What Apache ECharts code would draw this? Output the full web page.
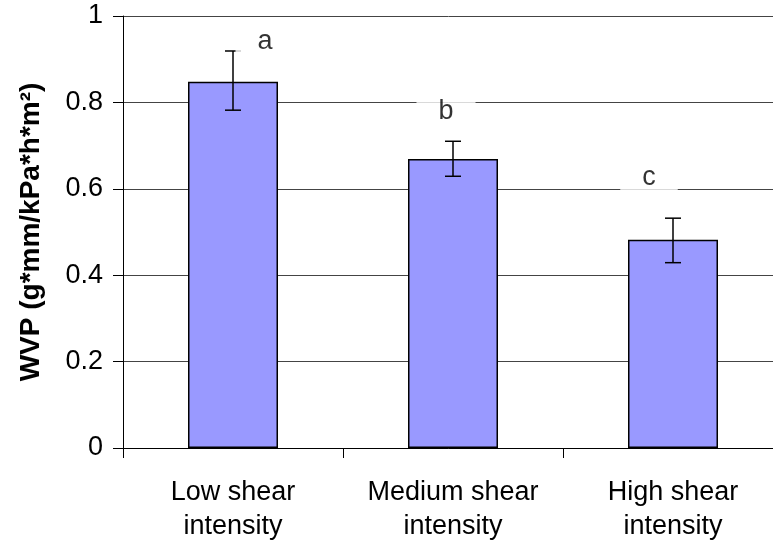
<!DOCTYPE html>
<html><head><meta charset="utf-8">
<script src="https://cdn.jsdelivr.net/npm/echarts@6/dist/echarts.min.js"></script>
<style>html,body{margin:0;padding:0;background:#fff}#c{width:773px;height:546px}</style>
</head><body><div id="c"></div>
<script>
const categories = ['Low shear\nintensity', 'Medium shear\nintensity', 'High shear\nintensity'];
const wvp = [0.848, 0.669, 0.482];
const errLow = [0.782, 0.629, 0.429];
const errHigh = [0.919, 0.710, 0.532];
const letters = ['a', 'b', 'c'];
const letterY = [0.94, 0.778, 0.627];
const yTicks = [0, 0.2, 0.4, 0.6, 0.8, 1];

const chart = echarts.init(document.getElementById('c'));
const font = 'Liberation Sans, Arial, sans-serif';
chart.setOption({
  animation: false,
  backgroundColor: '#fff',
  grid: { left: 123, width: 660, top: 16, bottom: 98, containLabel: false, outerBoundsMode: 'none' },
  xAxis: {
    type: 'category', data: categories, boundaryGap: true,
    axisLine: { lineStyle: { color: '#000', width: 1 } },
    axisTick: { show: true, length: 10, interval: 0, lineStyle: { color: '#000' } },
    axisLabel: { color: '#000', fontSize: 27, fontFamily: font, lineHeight: 34, margin: 28, interval: 0, hideOverlap: false }
  },
  yAxis: {
    type: 'value', min: yTicks[0], max: yTicks[yTicks.length - 1], interval: 0.2,
    name: 'WVP (g*mm/kPa*h*m²)', nameLocation: 'middle', nameGap: 78, nameRotate: 90,
    nameTextStyle: { color: '#000', fontSize: 28, fontWeight: 'bold', fontFamily: font },
    axisLine: { show: true, lineStyle: { color: '#000' } },
    axisTick: { show: true, length: 10, lineStyle: { color: '#000' } },
    axisLabel: { color: '#000', fontSize: 27, fontFamily: font, margin: 20, formatter: v => String(+v.toFixed(1)) },
    splitLine: { show: true, lineStyle: { color: '#444', width: 1 } }
  },
  series: [
    {
      type: 'bar', data: wvp, barWidth: 90,
      itemStyle: { color: '#9999FF', borderColor: '#000', borderWidth: 1.5 }
    },
    {
      type: 'custom', z: 5,
      data: wvp.map((v, i) => [i, errLow[i], errHigh[i]]),
      renderItem: (params, api) => {
        const lo = api.coord([api.value(0), api.value(1)]);
        const hi = api.coord([api.value(0), api.value(2)]);
        const w = 8;
        const st = { stroke: '#000', lineWidth: 1.5 };
        return { type: 'group', children: [
          { type: 'line', shape: { x1: hi[0], y1: hi[1], x2: lo[0], y2: lo[1] }, style: st },
          { type: 'line', shape: { x1: hi[0] - w, y1: hi[1], x2: hi[0] + w, y2: hi[1] }, style: st },
          { type: 'line', shape: { x1: lo[0] - w, y1: lo[1], x2: lo[0] + w, y2: lo[1] }, style: st }
        ]};
      }
    },
    {
      type: 'scatter', symbolSize: 0, z: 6,
      data: letters.map((l, i) => ({ value: [i, letterY[i]], name: l })),
      label: {
        show: true, position: 'inside', formatter: p => p.name,
        color: '#000', fontSize: 27, fontFamily: font,
        backgroundColor: '#fff', padding: [2, 22, 2, 22]
      },
      labelLayout: (p) => {
        const off = [32, -7, -24][p.dataIndex];
        return { dx: off };
      }
    }
  ]
});
</script></body></html>
